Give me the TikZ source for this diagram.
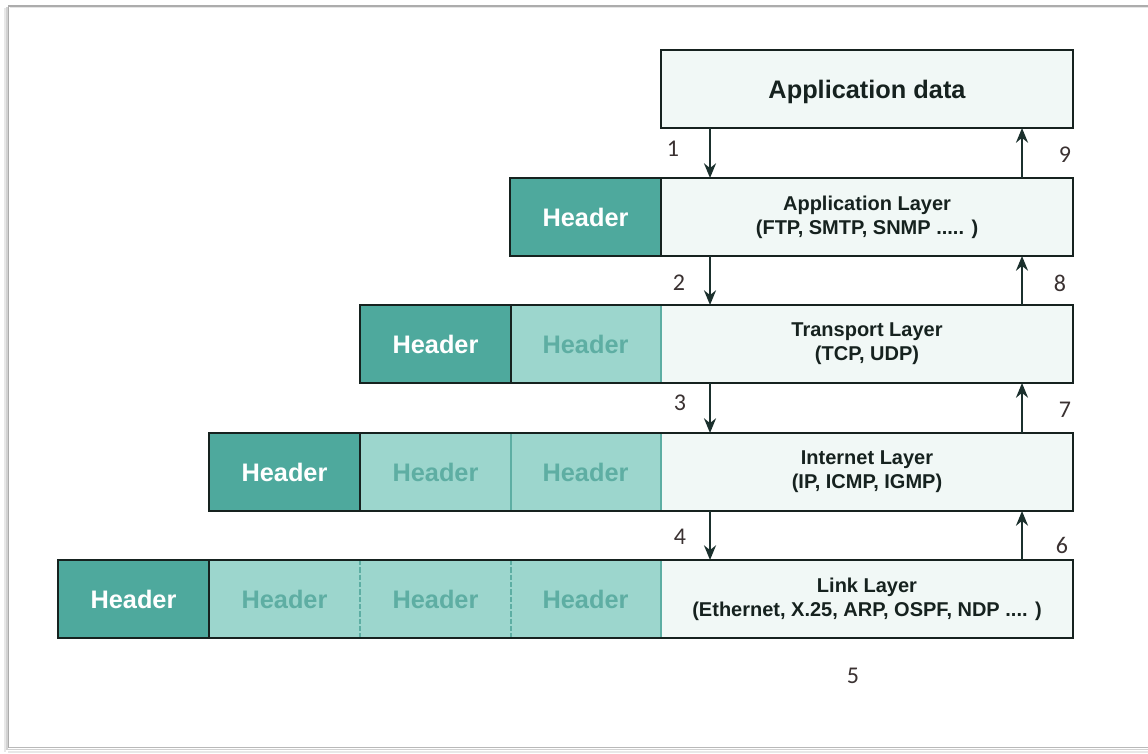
\documentclass[tikz,border=0pt]{standalone}
\usepackage{fontspec}
\setmainfont{Liberation Sans}
\newfontfamily\numfont{Carlito}
\usetikzlibrary{arrows.meta}

\definecolor{hdark}{HTML}{4EA99D}
\definecolor{hlight}{HTML}{9CD6CD}
\definecolor{hltext}{HTML}{5EAEA3}
\definecolor{datafill}{HTML}{F1F8F6}
\definecolor{edge}{HTML}{16221F}
\definecolor{sepc}{HTML}{5DAEA3}
\definecolor{arrowc}{HTML}{1B302D}
\definecolor{numc}{HTML}{3A3131}

\tikzset{
  cell/.style={inner sep=0pt, outer sep=0pt, minimum width=113.25pt,
    minimum height=58.5pt, anchor=north west,
    font=\bfseries\fontsize{19}{22}\selectfont},
  darkhdr/.style={cell, fill=hdark, text=white},
  lighthdr/.style={cell, fill=hlight, text=hltext},
  databox/.style={inner sep=0pt, outer sep=0pt, minimum width=309pt,
    minimum height=58.5pt, anchor=north west, fill=datafill, text=edge,
    align=center, font=\bfseries\fontsize{15}{18}\selectfont},
  frameline/.style={line width=1.5pt, draw=edge},
  innersep/.style={line width=0.9pt, draw=sepc},
  hardsep/.style={line width=1.5pt, draw=edge},
  flow/.style={line width=1.6pt, draw=arrowc, -{Stealth[length=11pt,width=9pt]}},
  num/.style={font=\numfont\fontsize{18}{20}\selectfont, text=numc},
}

\begin{document}
\begin{tikzpicture}[x=0.75pt, y=-0.75pt]
  % canvas and page frame
  \fill[white] (0,0) rectangle (1148,753);
  \useasboundingbox (0,0) rectangle (1148,753);
  \draw[gray!18, line width=2pt] (5,8) -- (5,752);
  \draw[gray!35, line width=1.2pt] (7,7) -- (7,750);
  \draw[gray!18, line width=2pt] (8,752) -- (1148,752);
  \draw[gray!35, line width=1.2pt] (8,749.5) -- (1148,749.5);
  \draw[gray!65, line width=0.9pt] (8.5,748) -- (8.5,6) -- (1148,6);
  \draw[gray!20, line width=1pt] (10,7.5) -- (1148,7.5);
  \draw[gray!55, line width=0.8pt] (8.5,747.5) -- (1148,747.5);

  % application data
  \node[databox, font=\bfseries\fontsize{19}{22}\selectfont, text depth=0pt] (appdata) at (661,50) {Application data};
  \draw[frameline] (appdata.north west) rectangle (appdata.south east);

  % application layer
  \node[darkhdr] (a1) at (510,178) {Header};
  \node[databox] (adata) at (661,178) {Application Layer\\(FTP, SMTP, SNMP ..... )};
  \draw[hardsep] (a1.north east) -- (a1.south east);
  \draw[frameline] (a1.north west) rectangle (adata.south east);

  % transport layer
  \node[darkhdr] (t1) at (360,305) {Header};
  \node[lighthdr] (t2) at (510,305) {Header};
  \node[databox] (tdata) at (661,305) {Transport Layer\\(TCP, UDP)};
  \draw[innersep] (t2.north east) -- (t2.south east);
  \draw[hardsep] (t1.north east) -- (t1.south east);
  \draw[frameline] (t1.north west) rectangle (tdata.south east);

  % internet layer
  \node[darkhdr] (i1) at (209,433) {Header};
  \node[lighthdr] (i2) at (360,433) {Header};
  \node[lighthdr] (i3) at (510,433) {Header};
  \node[databox] (idata) at (661,433) {Internet Layer\\(IP, ICMP, IGMP)};
  \draw[innersep] (i2.north east) -- (i2.south east);
  \draw[innersep] (i3.north east) -- (i3.south east);
  \draw[hardsep] (i1.north east) -- (i1.south east);
  \draw[frameline] (i1.north west) rectangle (idata.south east);

  % link layer
  \node[darkhdr] (l1) at (58,560) {Header};
  \node[lighthdr] (l2) at (209,560) {Header};
  \node[lighthdr] (l3) at (360,560) {Header};
  \node[lighthdr] (l4) at (510,560) {Header};
  \node[databox] (ldata) at (661,560) {Link Layer\\(Ethernet, X.25, ARP, OSPF, NDP .... )};
  \draw[innersep, dash pattern=on 4pt off 1.5pt] (l2.north east) -- (l2.south east);
  \draw[innersep, dash pattern=on 4pt off 1.5pt] (l3.north east) -- (l3.south east);
  \draw[innersep] (l4.north east) -- (l4.south east);
  \draw[hardsep] (l1.north east) -- (l1.south east);
  \draw[frameline] (l1.north west) rectangle (ldata.south east);

  % down (sending) and up (receiving) flows
  \coordinate (dn) at (710,0);
  \coordinate (up) at (1022,0);
  \draw[flow] (appdata.south -| dn) -- (adata.north -| dn);
  \draw[flow] (adata.south -| dn) -- (tdata.north -| dn);
  \draw[flow] (tdata.south -| dn) -- (idata.north -| dn);
  \draw[flow] (idata.south -| dn) -- (ldata.north -| dn);
  \draw[flow] (ldata.north -| up) -- (idata.south -| up);
  \draw[flow] (idata.north -| up) -- (tdata.south -| up);
  \draw[flow] (tdata.north -| up) -- (adata.south -| up);
  \draw[flow] (adata.north -| up) -- (appdata.south -| up);

  % step numbers
  \node[num] (n1) at (673,149) {1};
  \node[num] (n2) at (679,283) {2};
  \node[num] (n3) at (680,403) {3};
  \node[num] (n4) at (680,537) {4};
  \node[num] (n5) at (853,676) {5};
  \node[num] (n6) at (1062,545) {6};
  \node[num] (n7) at (1065,410) {7};
  \node[num] (n8) at (1060,283) {8};
  \node[num] (n9) at (1065,155) {9};
\end{tikzpicture}
\end{document}
